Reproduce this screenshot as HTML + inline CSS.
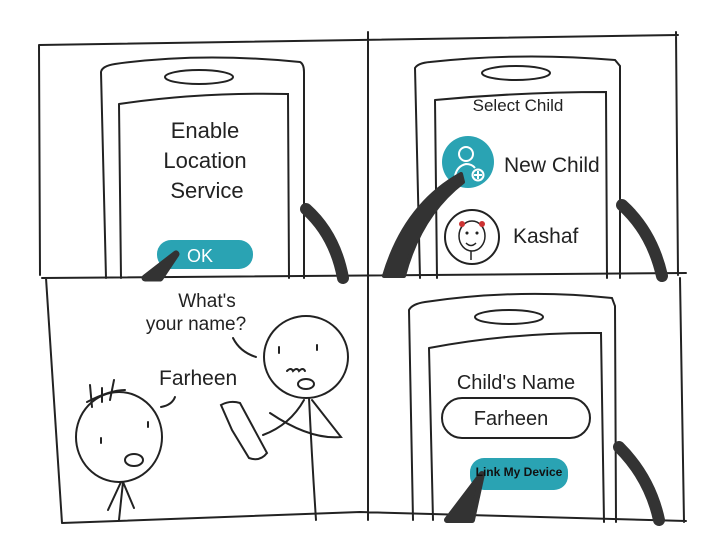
<!DOCTYPE html>
<html><head><style>
html,body{margin:0;padding:0;background:#fff;}
svg{display:block}
text{font-family:"Liberation Sans",sans-serif;fill:#222}
</style></head><body>
<svg width="720" height="559" viewBox="0 0 720 559" xmlns="http://www.w3.org/2000/svg">
<g fill="none" stroke="#222" stroke-width="2" stroke-linecap="round">
<!-- frame -->
<path d="M39 45 L678 35 M39 45 L40 275 M46 278 L62 523 M676 32 L678 275 M680 278 L684 522 M368 32 L368 520 M42 278 L686 273 M62 523 L360 512 L686 521"/>
<!-- panel1 phone -->
<path d="M101 72 Q102 66 115 64 Q200 52 300 62 Q304 64 304 72 L304 278 M101 72 L106 278"/>
<ellipse cx="199" cy="77" rx="34" ry="7"/>
<path d="M119 104 L121 278 M119 104 Q200 92 288 94 L289 278"/>
<!-- panel2 phone -->
<path d="M415 68 Q418 63 430 62 Q520 52 615 60 L620 66 L620 278 M415 68 L420 278"/>
<ellipse cx="516" cy="73" rx="34" ry="7"/>
<path d="M435 100 L437 278 M435 100 Q520 92 606 92 L607 278"/>
<circle cx="472" cy="237" r="27"/>
<!-- panel4 phone -->
<path d="M409 310 Q412 304 425 302 Q520 288 612 298 L615 306 L616 522 M409 310 L413 520"/>
<ellipse cx="509" cy="317" rx="34" ry="7"/>
<path d="M429 348 L433 520 M429 348 Q515 332 601 333 L604 522"/>
<rect x="442" y="398" width="148" height="40" rx="20"/>
<!-- people -->
<ellipse cx="306" cy="357" rx="42" ry="41"/>
<ellipse cx="119" cy="437" rx="43" ry="45"/>
<path d="M309 398 Q312 460 316 520 M233 338 Q240 352 256 357 M304 400 Q290 425 263 435 M270 413 Q310 440 341 437 L312 400 M123 482 L119 520 M121 482 L108 510 M123 482 L134 508 M90 385 L92 407 M102 388 L102 402 M114 380 L110 400 M87 402 Q110 390 125 390 M175 397 Q172 405 161 407"/>
<path d="M221 405 Q230 400 240 403 L267 453 Q260 462 249 458 L232 430 Z"/>
<path d="M287 371 q4 -4 6 0 q4 -4 6 0 q4 -4 6 0"/>
<ellipse cx="306" cy="384" rx="8" ry="5"/>
<ellipse cx="134" cy="460" rx="9" ry="6"/>
<path d="M279 347 L279 353 M317 345 L317 350 M101 438 L101 443 M148 422 L148 427"/>
</g>
<!-- arms -->
<g fill="none" stroke="#333" stroke-width="12" stroke-linecap="round">
<path d="M306 209 Q335 235 343 278"/>
<path d="M622 205 Q652 232 662 276"/>
<path d="M619 447 Q650 478 659 520"/>
</g>
<!-- teal -->
<rect x="157" y="240" width="96" height="29" rx="14" fill="#2aa3b3"/>
<text x="200" y="262" font-size="18" style="fill:#fff" text-anchor="middle">OK</text>
<circle cx="468" cy="162" r="26" fill="#2aa3b3"/>
<g fill="none" stroke="#fff" stroke-width="2"><circle cx="466" cy="154" r="7"/><path d="M455 176 Q457 166 466 164 Q472 164 475 168"/><circle cx="478" cy="175" r="5.5"/><path d="M478 171 V179 M474 175 H482"/></g>
<rect x="470" y="458" width="98" height="32" rx="14" fill="#2aa3b3"/>
<!-- fingers -->
<g stroke="#333" fill="#333" stroke-linecap="round" stroke-linejoin="round">
<path d="M176 254 L145 278 L160 278 Z" stroke-width="7"/>
<path d="M461 174 Q405 205 384 276 L404 276 Q420 215 463 182 Z" stroke-width="4"/>
<path d="M482 474 L447 520 L472 520 Z" stroke-width="6"/>
</g>
<!-- kashaf face -->
<g fill="none" stroke="#222" stroke-width="1.5"><ellipse cx="472" cy="236" rx="13" ry="15"/><path d="M471 251 L471 260 M466 243 q5 5 10 0"/><circle cx="467" cy="233" r="0.8"/><circle cx="477" cy="233" r="0.8"/></g>
<circle cx="462" cy="224" r="3" fill="#c33"/><circle cx="482" cy="224" r="3" fill="#c33"/>
<!-- texts -->
<g font-size="22" text-anchor="middle">
<text x="205" y="138">Enable</text>
<text x="205" y="168">Location</text>
<text x="207" y="198">Service</text>
</g>
<text x="518" y="111" font-size="17" text-anchor="middle">Select Child</text>
<text x="504" y="172" font-size="21">New Child</text>
<text x="513" y="243" font-size="21">Kashaf</text>
<text x="207" y="307" font-size="19" text-anchor="middle">What's</text>
<text x="196" y="330" font-size="19" text-anchor="middle">your name?</text>
<text x="159" y="385" font-size="21">Farheen</text>
<text x="516" y="389" font-size="20" text-anchor="middle">Child's Name</text>
<text x="511" y="425" font-size="20" text-anchor="middle">Farheen</text>
<text x="519" y="476" font-size="12" font-weight="bold" text-anchor="middle" style="fill:#111">Link My Device</text>
</svg>
</body></html>
